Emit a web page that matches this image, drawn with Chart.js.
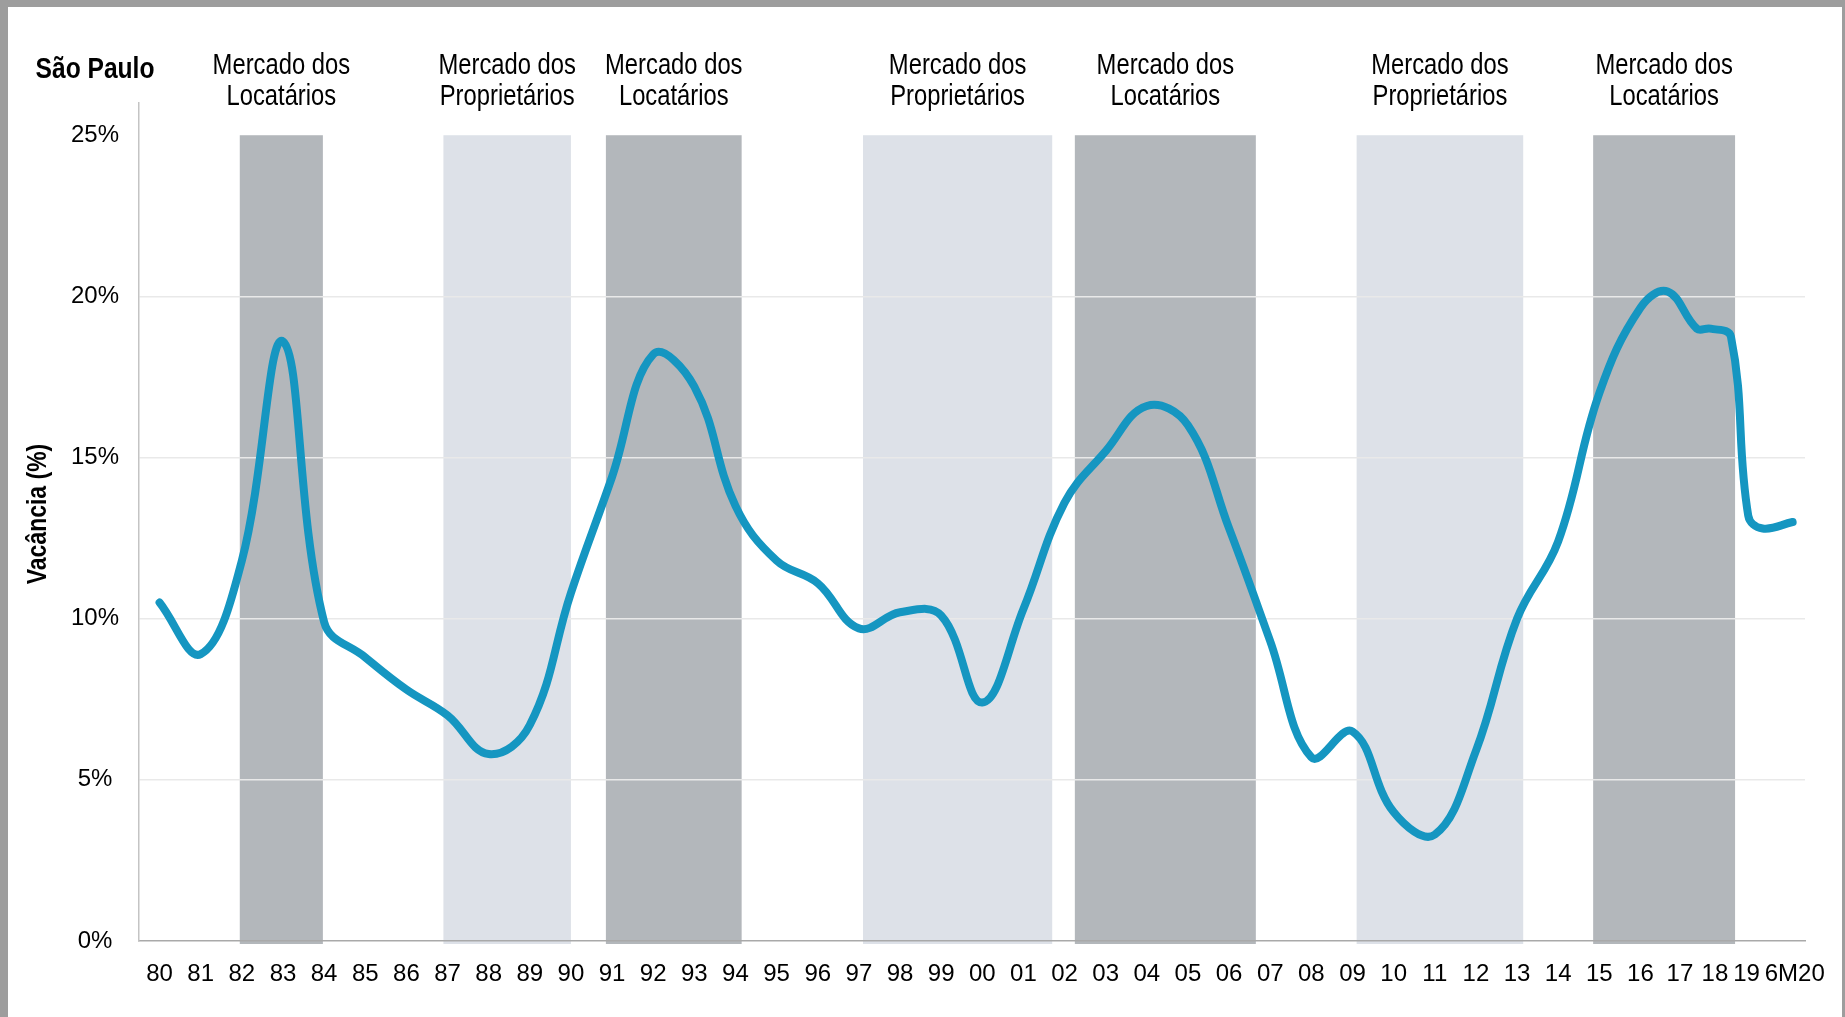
<!DOCTYPE html>
<html>
<head>
<meta charset="utf-8">
<script src="https://cdn.jsdelivr.net/npm/chart.js@4.4.1/dist/chart.umd.min.js"></script>
<style>
  html, body { margin: 0; padding: 0; background: #fff; }
  #wrap { position: relative; width: 1845px; height: 1017px; overflow: hidden; background: #fff; }
  #c { position: absolute; left: 0; top: 0; }
  .edge { position: absolute; background: #9d9d9d; }
</style>
</head>
<body>
<div id="wrap">
  <canvas id="c" width="1845" height="1017"></canvas>
  <div class="edge" style="left:0;top:0;width:1845px;height:7px;"></div>
  <div class="edge" style="left:0;top:0;width:8px;height:1017px;"></div>
  <div class="edge" style="right:0;top:0;width:3px;height:1017px;"></div>
</div>
<script>
// ---- data ----
const tickLabels = ['80','81','82','83','84','85','86','87','88','89','90','91','92','93','94','95','96','97','98','99',
                    '00','01','02','03','04','05','06','07','08','09','10','11','12','13','14','15','16','17','18','19','6M20'];
// x position (in year-index units, 80 = 0) of each tick label
const tickX = [0,1,2,3,4,5,6,7,8,9,10,11,12,13,14,15,16,17,18,19,20,21,22,23,24,25,26,27,28,29,30,31,32,33,34,35,36,36.96,37.81,38.58,39.75];

// vacancy series: x position (year-index units) and value (%)
const pointX   = [0, 1, 2, 3, 4, 5, 6, 7, 8, 9, 10, 11, 12, 13, 14, 15, 16, 17, 18, 19,
                  20, 21, 22, 23, 24, 25, 26, 27, 28, 29, 30, 31, 32, 33, 34, 35, 36, 36.66, 37.37, 37.7, 38.2, 38.62, 38.97, 39.7];
const vacancia = [10.5, 8.9, 11.8, 18.6, 9.9, 8.8, 7.8, 7.0, 5.8, 6.7, 10.8, 14.4, 18.2, 17.2, 13.5, 11.8, 11.1, 9.7, 10.2, 10.1,
                  7.4, 10.3, 13.6, 15.2, 16.6, 16.0, 12.8, 9.3, 5.7, 6.5, 4.0, 3.3, 5.9, 10.0, 12.4, 17.0, 19.65, 20.15, 19.0, 19.0, 18.75, 13.2, 12.8, 13.0];

// market phases (shaded periods)
const bandStart = [1.95, 6.9, 10.85, 17.1, 22.25, 29.1, 34.85];
const bandEnd   = [3.97, 10.0, 14.15, 21.7, 26.65, 33.15, 38.3];
const bandKind  = ['L', 'P', 'L', 'P', 'L', 'P', 'L'];
const phaseNames = { L: ['Mercado dos', 'Locatários'], P: ['Mercado dos', 'Proprietários'] };

const yTicks = [0, 5, 10, 15, 20, 25];
const chartTitle = 'São Paulo';
const yTitle = 'Vacância (%)';

// ---- styles ----
const FONT = "'Liberation Sans', Arial, sans-serif";
const NARROW = 0.82;   // horizontal compression to mimic a narrow face
const bandColor = { L: '#b3b7bb', P: '#dde1e8' };

function narrowText(ctx, text, x, y, font, rot) {
  ctx.save();
  ctx.translate(x, y);
  if (rot) ctx.rotate(rot);
  ctx.scale(NARROW, 1);
  ctx.font = font;
  ctx.fillText(text, 0, 0);
  ctx.restore();
}

const bandsPlugin = {
  id: 'bands',
  beforeDraw(chart) {
    const { ctx, scales: { x, y } } = chart;
    const top = y.getPixelForValue(25);
    const bottom = y.getPixelForValue(0) + 3;
    ctx.save();
    bandStart.forEach((s, i) => {
      const x0 = x.getPixelForValue(s), x1 = x.getPixelForValue(bandEnd[i]);
      ctx.fillStyle = bandColor[bandKind[i]];
      ctx.fillRect(x0, top, x1 - x0, bottom - top);
    });
    ctx.restore();
  },
  afterDraw(chart) {
    const { ctx, scales: { x, y }, chartArea } = chart;
    ctx.save();
    ctx.fillStyle = '#000';
    ctx.textAlign = 'center';
    ctx.textBaseline = 'middle';
    bandStart.forEach((s, i) => {
      const cx = (x.getPixelForValue(s) + x.getPixelForValue(bandEnd[i])) / 2;
      const lines = phaseNames[bandKind[i]];
      narrowText(ctx, lines[0], cx, chartArea.top - 37, '29px ' + FONT);
      narrowText(ctx, lines[1], cx, chartArea.top - 6, '29px ' + FONT);
    });
    narrowText(ctx, chartTitle, 95, chartArea.top - 33, 'bold 30px ' + FONT);
    narrowText(ctx, yTitle, 38, (chartArea.top + chartArea.bottom) / 2 - 8, 'bold 28px ' + FONT, -Math.PI / 2);
    ctx.restore();
  }
};

new Chart(document.getElementById('c'), {
  type: 'line',
  data: {
    datasets: [{
      label: 'Vacância',
      data: pointX.map((v, i) => ({ x: v, y: vacancia[i] })),
      borderColor: '#1596c1',
      borderWidth: 8,
      tension: 0.4,
      pointRadius: 0,
      borderCapStyle: 'round',
      borderJoinStyle: 'round',
      fill: false
    }]
  },
  options: {
    responsive: false,
    animation: false,
    devicePixelRatio: 1,
    layout: { padding: { top: 103, right: 40, left: 0, bottom: 0 } },
    plugins: { legend: { display: false }, tooltip: { enabled: false }, title: { display: false } },
    scales: {
      x: {
        type: 'linear',
        min: -0.5,
        max: 40,
        afterBuildTicks: (s) => { s.ticks = tickX.map(v => ({ value: v })); },
        afterFit: (s) => { s.height = 76; },
        ticks: {
          autoSkip: false, maxRotation: 0, minRotation: 0, padding: 19,
          color: '#000', font: { family: FONT, size: 24 },
          callback: (v, i) => tickLabels[i]
        },
        grid: { display: false, drawTicks: false },
        border: { display: true, color: '#a9a9a9', width: 1.5 }
      },
      y: {
        min: 0,
        max: 26,
        afterBuildTicks: (s) => { s.ticks = yTicks.map(v => ({ value: v })); },
        afterFit: (s) => { s.width = 139; },
        ticks: {
          padding: 20, crossAlign: 'center',
          color: '#000', font: { family: FONT, size: 24 },
          callback: (v) => v + '%'
        },
        grid: {
          drawTicks: false, lineWidth: 1.5,
          color: (c) => (c.tick && c.tick.value > 0 && c.tick.value < 25) ? '#e9e9e9' : 'rgba(0,0,0,0)'
        },
        border: { display: true, color: '#c4c4c4', width: 1.5 }
      }
    }
  },
  plugins: [bandsPlugin]
});
</script>
</body>
</html>
